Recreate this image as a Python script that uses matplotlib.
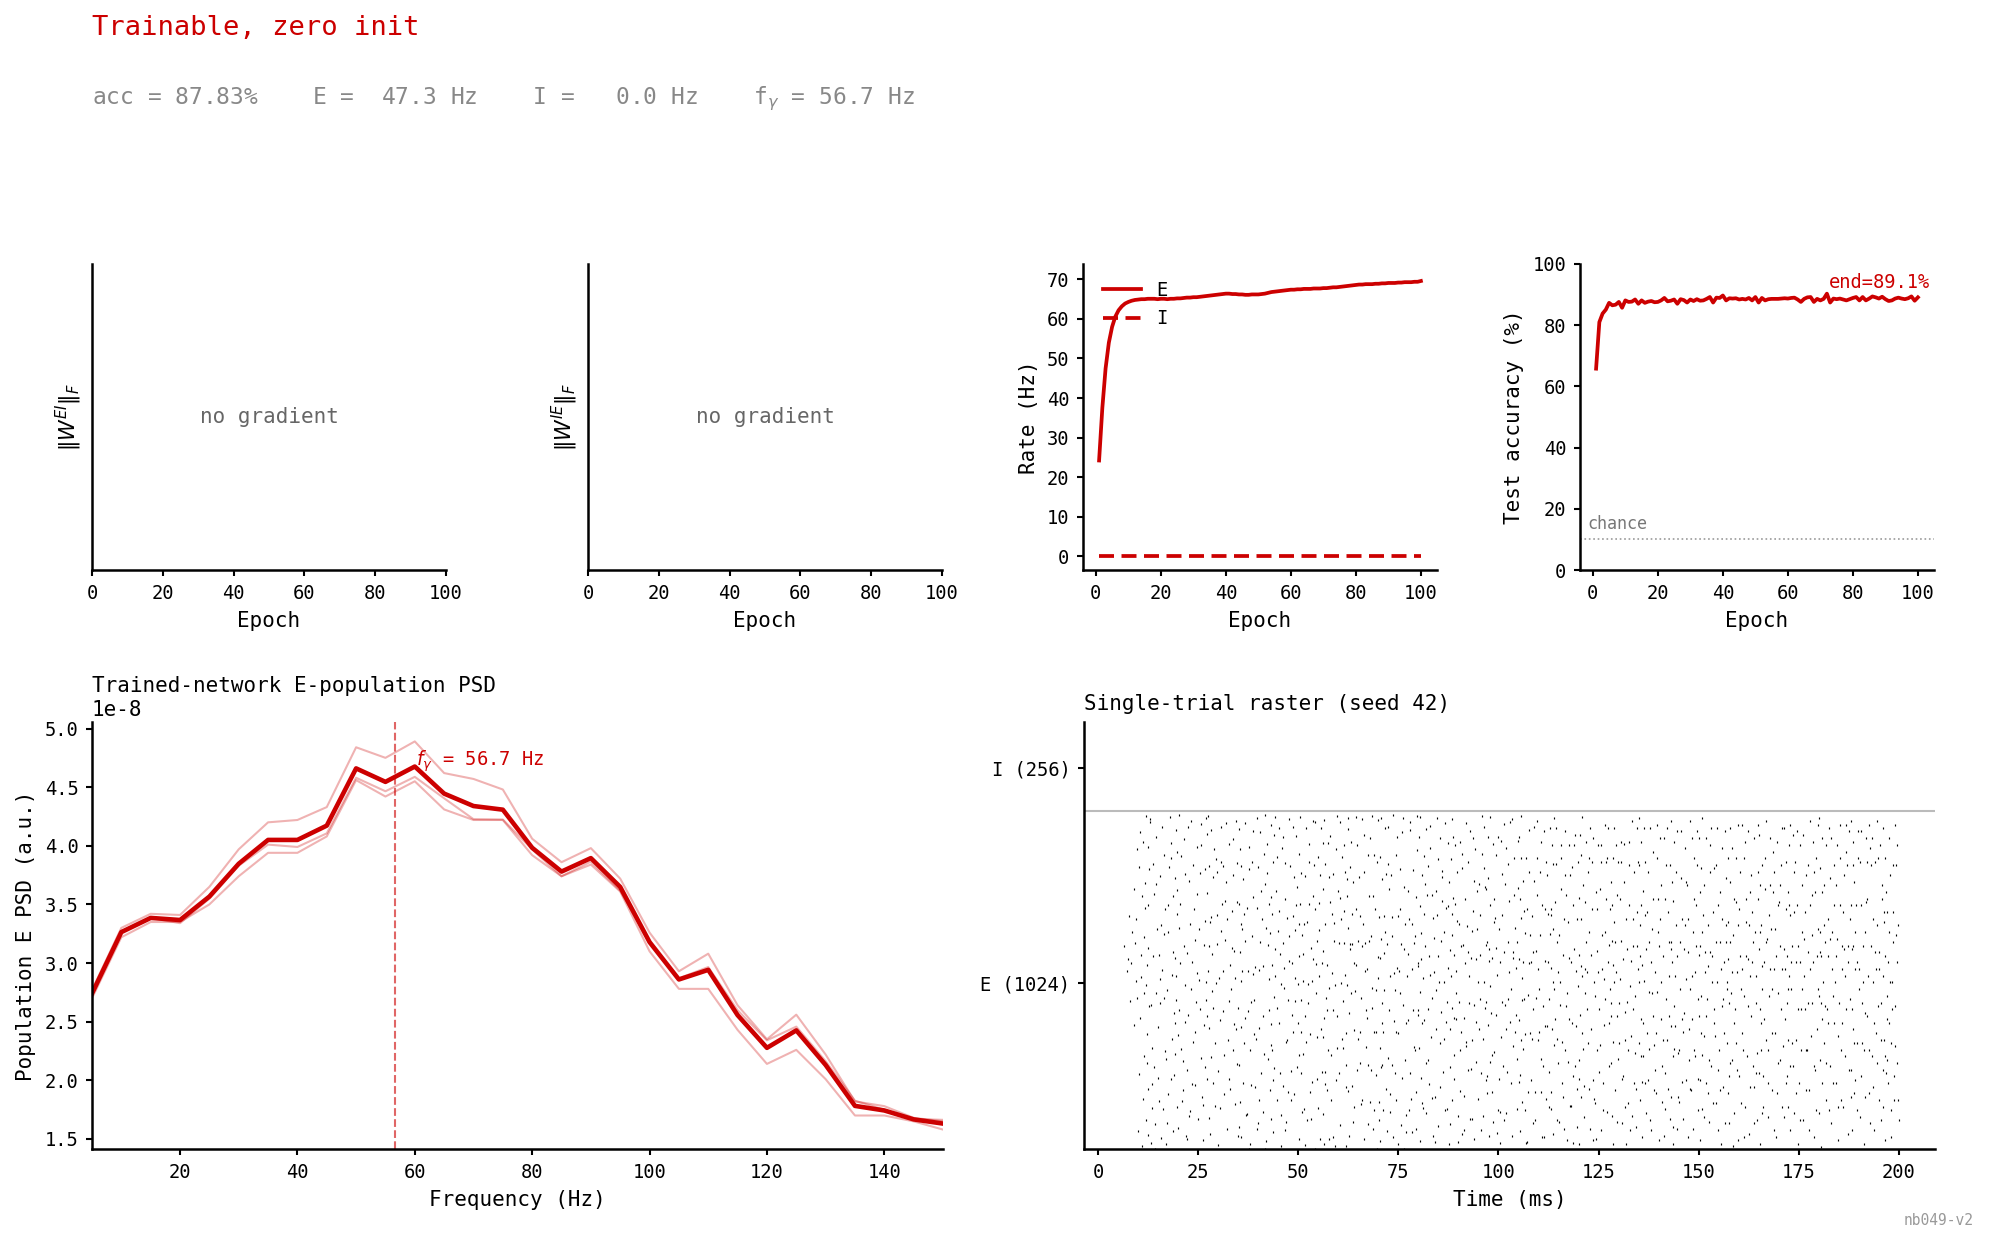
import matplotlib
matplotlib.use('Agg')
import matplotlib.pyplot as plt

plt.rcParams['font.family'] = ['DejaVu Sans Mono', 'DejaVu Sans']
plt.rcParams['axes.unicode_minus'] = False

RED = '#cc0000'

# ---------------- data ----------------
epochs = list(range(1, 101))
rate_E = [24.2, 37.5, 47.5, 54.0, 58.0, 60.6, 62.2, 63.2, 63.9, 64.3,
          64.6, 64.8, 64.9, 65.0, 65.0, 65.1, 65.1, 65.1, 65.0, 65.1,
          65.1, 65.0, 65.1, 65.1, 65.2, 65.2, 65.3, 65.4, 65.4, 65.5,
          65.5, 65.6, 65.7, 65.8, 65.9, 66.0, 66.1, 66.2, 66.3, 66.4,
          66.4, 66.3, 66.3, 66.2, 66.2, 66.1, 66.1, 66.2, 66.2, 66.2,
          66.3, 66.4, 66.6, 66.8, 66.9, 67.0, 67.1, 67.2, 67.3, 67.4,
          67.4, 67.5, 67.5, 67.6, 67.6, 67.6, 67.7, 67.7, 67.7, 67.8,
          67.8, 67.9, 68.0, 68.0, 68.1, 68.2, 68.3, 68.4, 68.5, 68.6,
          68.7, 68.7, 68.8, 68.8, 68.8, 68.9, 68.9, 69.0, 69.0, 69.1,
          69.1, 69.1, 69.2, 69.2, 69.3, 69.3, 69.3, 69.4, 69.4, 69.6]
rate_I = [0.0] * 100
acc = [65.8, 81.0, 83.8, 85.1, 87.3, 86.5, 86.7, 87.6, 85.7, 88.1,
       87.6, 87.7, 88.4, 87.0, 88.1, 87.3, 87.7, 87.9, 87.5, 87.6,
       88.1, 88.9, 87.8, 88.0, 88.4, 87.0, 88.5, 88.2, 87.4, 88.4,
       87.9, 88.5, 88.0, 88.1, 88.6, 89.2, 87.4, 89.0, 88.9, 89.7,
       88.1, 88.8, 88.7, 88.8, 88.4, 88.6, 88.4, 88.9, 88.1, 89.2,
       87.4, 88.9, 88.1, 88.5, 88.6, 88.6, 88.6, 88.7, 88.8, 88.7,
       88.9, 89.0, 88.4, 87.6, 88.6, 89.1, 89.2, 87.6, 88.6, 88.1,
       88.6, 90.3, 87.4, 88.7, 88.5, 88.7, 88.4, 88.1, 88.5, 88.9,
       89.2, 88.1, 89.2, 88.1, 88.7, 89.4, 89.1, 88.7, 89.3, 88.5,
       87.9, 88.1, 88.7, 89.0, 88.7, 88.5, 88.8, 89.4, 88.0, 89.1]
chance_level = 10.0
final_acc = 89.1

freqs = list(range(5, 155, 5))
psd_mean = [2.74, 3.264, 3.385, 3.367, 3.567, 3.847, 4.050, 4.050, 4.172, 4.660,
            4.545, 4.676, 4.445, 4.339, 4.308, 3.983, 3.780, 3.895, 3.649, 3.179,
            2.860, 2.942, 2.556, 2.277, 2.426, 2.131, 1.782, 1.743, 1.667, 1.631]
psd_seed_a = [2.77, 3.30, 3.42, 3.41, 3.65, 3.97, 4.20, 4.22, 4.33, 4.84,
              4.75, 4.89, 4.62, 4.57, 4.48, 4.06, 3.86, 3.98, 3.72, 3.26,
              2.93, 3.08, 2.64, 2.35, 2.56, 2.22, 1.82, 1.78, 1.68, 1.65]
psd_seed_b = [2.70, 3.22, 3.35, 3.35, 3.50, 3.74, 3.94, 3.94, 4.08, 4.56,
              4.42, 4.55, 4.31, 4.22, 4.22, 3.92, 3.74, 3.84, 3.61, 3.10,
              2.78, 2.78, 2.43, 2.14, 2.26, 2.01, 1.70, 1.70, 1.65, 1.58]
psd_seed_c = [2.75, 3.27, 3.385, 3.34, 3.55, 3.83, 4.01, 3.99, 4.106, 4.58,
              4.465, 4.588, 4.405, 4.227, 4.224, 3.969, 3.74, 3.865, 3.617, 3.177,
              2.87, 2.966, 2.598, 2.341, 2.458, 2.163, 1.826, 1.749, 1.671, 1.663]
psd_scale = 1e-8
f_gamma = 56.7

summary_acc = 87.83
summary_E = 47.3
summary_I = 0.0

n_E = 1024
n_I = 256

# E-population spikes read (approximately) from the raster.
# One line per millisecond: "ms: d/n ..." = spike of neuron n at ms + d/10.
E_SPIKES = """
6: 4/622
7: 2/547 8/711 5/583
8: 1/459 6/664 9/793 3/571
9: 0/388 4/518 6/703 8/912 2/633 7/467
10: 1/73 3/241 6/407 7/596 9/772 2/859 5/963 8/529
11: 0/27 3/168 5/296 6/483 8/809 2/934 9/1009 4/651 7/737
12: 0/104 2/274 3/362 5/618 6/746 8/853 9/991 1/506 4/197 7/445 5/917 2/565 6/59
13: 3/36 5/213 7/594 9/779 1/1002 6/318 2/447 8/868 4/139
14: 2/92 5/484 8/672 4/947 9/381 1/263 6/806 3/18
15: 1/229 4/831 7/52 3/597 9/977 5/452 8/686 2/161 6/524
16: 2/137 6/468 8/733 4/893 1/552 7/309 9/33 5/659
17: 0/287 3/94 5/663 8/857 9/1006 2/491 6/183 4/744
18: 1/226 4/537 6/772 9/423 2/929 7/71 5/346 8/605 3/884
19: 0/11 6/142 2/301 9/358 4/463 1/588 7/719 3/826 8/903 5/968 0/239 4/532 7/791 2/394
20: 0/82 2/431 4/748 6/891 3/1013 8/315 5/571 9/162 1/677
21: 2/193 5/624 8/508 4/942 1/281 7/836 9/56 6/397
22: 1/49 3/253 7/817 9/689 5/418 2/603 8/117 4/978
23: 0/131 4/576 6/864 8/337 2/995 5/212 9/734 3/496
24: 1/208 5/457 7/779 3/642 9/7 6/918 2/366 8/543
25: 0/106 3/522 6/924 8/289 4/839 1/673 9/172 5/436 7/987
26: 2/149 5/388 7/697 9/1004 4/627 1/44 6/853 8/261
27: 4/14 1/227 7/379 0/462 5/547 9/693 3/781 6/861 2/956 8/109 5/1011 0/514 6/622 3/413
28: 0/63 2/292 4/598 6/827 8/437 3/969 7/214 1/709 5/488 9/911
29: 1/147 5/512 8/716 4/883 2/334 7/629 9/31 6/844
30: 0/251 3/9 6/668 8/873 5/402 1/527 9/747 4/139 7/976
31: 2/547 4/181 7/758 9/988 1/429 5/297 8/641 3/862
32: 1/77 4/343 6/459 8/928 3/703 0/814 7/226 9/566
33: 0/197 5/618 7/833 2/16 9/389 4/727 6/312 8/942 3/496
34: 1/151 3/527 6/753 8/869 4/994 0/607 7/272 9/58 5/374
35: 6/53 2/268 8/381 0/439 4/604 9/672 3/749 7/861 1/971 5/158 8/517 2/83 6/688 4/912
36: 1/214 4/717 6/988 8/407 3/823 0/548 9/119 5/333 7/637
37: 2/123 5/549 7/917 9/313 1/735 4/429 8/19 6/853
38: 0/34 3/457 5/652 8/768 6/966 2/209 9/362 4/874 7/538
39: 1/202 4/347 7/736 9/858 3/561 6/77 0/463 8/1003
40: 0/94 2/552 5/962 8/244 4/636 1/377 7/788 9/703 3/163
41: 1/413 3/127 6/808 9/677 7/1012 2/562 5/302 8/17 4/897
42: 0/43 4/287 6/523 8/748 2/926 5/627 9/193 3/839 7/433
43: 3/108 7/224 1/329 9/472 5/567 0/662 4/717 8/872 2/983 6/68 3/391 9/954 5/313 1/769
44: 0/259 2/533 5/788 7/163 9/667 3/1007 6/437 1/613 8/889
45: 1/393 4/598 7/27 9/914 2/728 5/243 8/509 3/974 6/118
46: 2/207 5/497 7/763 3/947 9/338 1/633 6/869 8/74 4/558
47: 0/98 3/342 6/578 9/862 2/707 5/462 8/1001 4/187 7/652
48: 1/8 4/418 6/713 8/976 3/249 5/573 9/829 2/163 7/368
49: 0/183 3/527 6/797 9/393 2/671 5/949 8/262 4/744 1/458
50: 3/47 8/243 1/297 6/462 0/509 9/654 4/747 7/841 2/897 5/1008 9/127 1/592 6/367 3/688
51: 1/302 4/689 6/413 9/973 2/517 5/137 8/831 3/598 7/29
52: 2/103 4/509 7/873 9/187 3/693 0/338 6/927 5/453 8/749
53: 0/362 3/617 6/994 8/773 1/108 4/517 9/864 5/218 7/583
54: 1/19 4/482 7/227 9/889 5/569 2/732 8/353 3/991 6/639
55: 0/139 2/669 5/833 8/376 3/532 6/973 9/247 1/752 4/49
56: 5/34 1/123 8/248 3/353 9/467 0/572 6/689 2/794 7/867 4/999 1/607 8/212 5/407 3/929
57: 1/432 4/929 6/48 9/753 2/567 5/313 8/829 3/193 7/499
58: 2/298 5/542 7/838 3/163 9/691 0/949 6/433 4/717 8/53
59: 0/638 3/27 6/413 8/1009 2/508 5/223 9/788 4/913 7/318
60: 1/243 4/767 7/513 9/889 5/89 2/632 8/347 3/993 6/703
61: 2/319 5/632 8/28 6/843 1/458 9/203 4/727 7/537 3/923
62: 4/192 0/268 7/423 2/507 9/613 5/677 1/773 8/859 3/972 6/58 0/363 4/1003 8/629 2/823
63: 1/483 4/207 7/813 5/628 9/373 2/933 6/98 8/573 3/717
64: 0/143 3/567 6/923 9/347 4/733 1/488 7/253 5/1007 8/637
65: 2/9 4/713 7/467 9/1002 5/273 1/827 8/623 3/368 6/153
66: 0/163 3/843 6/548 8/323 2/689 5/952 9/433 4/49 7/633
67: 1/408 4/93 6/639 9/943 3/268 7/773 2/553 8/158 5/893
68: 2/253 5/498 7/773 4/1011 9/367 1/653 6/78 8/893 3/438
69: 0/133 3/367 6/873 8/589 2/733 5/238 9/997 4/493 7/17
70: 5/43 1/158 7/263 3/318 9/453 0/528 6/643 2/708 8/823 4/889 7/1003 1/103 5/588 9/393
71: 1/368 3/603 5/713 7/973 9/198 4/493 8/838 2/133 6/663 0/268
72: 2/73 5/288 7/793 9/533 3/868 1/628 6/433 8/183 4/978
73: 0/128 4/653 7/1013 9/398 2/833 5/268 8/543 3/708 6/53
74: 1/243 4/893 6/558 8/33 3/368 9/713 5/163 7/948 2/493
75: 0/363 3/733 6/88 9/963 2/548 5/853 8/228 4/483 7/628
76: 2/448 5/798 7/283 4/613 9/118 1/1003 6/688 8/393 3/18
77: 0/68 3/403 6/703 8/993 1/533 5/788 9/243 4/598 7/133
78: 1/168 4/553 7/848 9/323 3/688 6/433 0/968 8/633 5/68
79: 2/653 5/78 8/433 6/908 1/313 4/768 9/563 3/188 7/1010
80: 6/229 2/318 9/393 4/487 0/572 7/661 3/742 8/834 1/947 5/42 9/154 3/1007 6/583 0/418
81: 2/526 5/717 8/273 4/891 1/139 6/624 9/971 3/402 7/806
82: 0/124 3/436 6/593 9/979 2/774 5/284 8/537 4/862 7/213
83: 1/352 4/776 7/57 9/546 3/169 6/707 0/916 5/467 8/648
84: 2/174 5/493 8/882 6/716 1/39 4/375 9/594 3/787 7/1004
85: 0/86 3/334 6/637 9/827 2/514 5/204 8/757 4/943 7/425
86: 1/246 4/516 7/989 9/396 3/663 6/133 0/847 5/345 8/736
87: 2/137 5/743 7/32 8/612 1/457 4/931 9/263 3/556 6/814
88: 3/165 8/297 0/374 5/438 1/534 9/596 4/718 7/766 2/883 6/947 0/93 5/1002 8/407 3/656
89: 0/227 3/406 5/549 7/842 9/117 6/697 2/925 4/484 8/38 1/749
90: 2/456 5/933 8/64 4/314 1/687 7/623 9/856 3/192 6/367
91: 1/626 4/176 7/763 9/988 3/407 6/573 0/896 5/76 8/324
92: 0/337 3/872 6/533 8/107 2/682 5/253 9/964 4/604 7/454
93: 2/256 5/667 8/446 6/943 1/586 4/107 9/816 3/344 7/728
94: 0/47 3/584 6/787 9/167 4/396 1/912 7/673 5/277 8/516
95: 1/374 4/714 7/244 9/896 3/596 6/74 2/807 5/466 8/1011
96: 2/117 5/516 8/626 4/976 1/347 7/797 9/224 3/856 6/437
97: 7/56 2/184 9/276 4/387 0/456 6/577 1/636 8/744 3/826 5/947 9/1006 2/236 6/613 0/793
98: 1/424 4/587 7/97 9/763 3/297 6/927 0/503 5/187 8/694
99: 0/306 3/894 6/537 8/134 2/706 5/417 9/947 4/616 7/66
100: 2/673 5/36 8/456 6/936 1/226 4/574 9/836 3/127 7/353
101: 1/266 4/604 7/806 9/374 3/986 6/446 0/716 5/104 8/914
102: 0/126 3/466 6/756 9/993 2/246 5/636 8/396 4/866 7/546
103: 2/216 5/606 8/886 4/56 1/496 7/326 9/776 3/1001 6/586
104: 0/366 3/556 6/286 9/796 2/676 5/136 8/936 4/416 7/636
105: 4/71 9/157 1/219 6/344 2/403 8/527 0/584 5/706 3/763 7/884 1/947 6/1010 9/462 4/238
106: 1/317 3/464 5/661 7/133 9/884 4/726 0/576 6/361 8/37 2/817
107: 2/39 5/573 8/364 6/967 1/733 4/187 9/654 3/477 7/844
108: 0/224 3/713 6/434 9/817 2/576 5/94 8/977 4/347 7/604
109: 1/104 4/607 7/994 9/344 3/467 6/774 0/187 5/884 8/554
110: 2/494 5/187 8/744 6/934 1/367 4/654 9/54 3/844 7/287
111: 0/264 3/54 6/577 9/874 2/444 5/734 8/167 4/964 7/384
112: 1/384 4/717 7/144 9/974 3/574 6/247 0/834 5/464 8/657
113: 6/64 1/187 8/327 3/374 9/494 0/557 5/674 2/734 7/867 4/924 9/1003 2/137 6/514 0/714
114: 2/404 5/634 8/274 4/867 1/754 7/104 9/544 3/974 6/347
115: 1/97 4/514 7/794 9/337 2/654 5/924 8/214 3/447 6/884
116: 0/174 3/704 6/964 8/444 2/597 5/314 9/774 4/77 7/834
117: 2/44 5/587 8/834 4/277 1/484 7/924 9/147 3/694 6/404
118: 0/147 3/394 6/744 9/924 2/574 5/234 8/614 4/857 7/37
119: 1/264 4/547 7/84 9/874 3/384 6/704 0/954 5/197 8/504
120: 5/174 0/227 8/364 3/417 9/534 1/597 6/704 2/767 7/894 4/954 0/34 8/1006 5/564 2/284
121: 2/317 5/484 8/634 4/114 1/804 7/554 9/934 3/207 6/754
122: 0/544 3/844 6/197 9/974 2/434 5/664 8/77 4/334 7/884
123: 1/374 4/734 7/44 9/514 3/874 6/224 0/597 5/944 8/167
124: 2/154 5/607 8/924 6/314 1/474 4/784 9/544 3/47 7/734
125: 0/434 3/794 6/74 9/654 2/247 5/924 8/554 4/327 7/874
126: 1/214 4/524 7/984 9/874 3/387 6/664 0/134 5/464 8/764
127: 2/127 5/394 8/734 4/574 1/884 7/264 9/494 3/974 6/627
128: 7/34 3/117 0/274 6/337 1/454 8/514 4/637 9/694 2/814 5/884 8/974 1/414 6/567 3/744
129: 1/194 4/544 7/774 9/287 3/924 6/414 0/634 5/97 8/874
130: 2/454 5/934 8/94 6/637 1/334 4/764 9/227 3/524 7/874
131: 0/234 3/814 6/427 9/34 2/584 5/144 8/704 4/927 7/344
132: 1/614 4/154 7/934 9/504 3/314 6/744 0/457 5/864 8/74
133: 2/354 5/704 8/214 4/994 1/577 7/434 9/844 3/117 6/624
134: 0/474 3/84 6/624 9/874 2/304 5/974 8/554 4/197 7/724
135: 3/164 8/217 1/334 6/404 0/514 9/567 4/684 7/744 2/864 5/934 9/54 1/1004 6/294 4/594
136: 1/294 3/517 5/714 8/124 6/874 0/394 9/614 4/974 7/214 2/787
137: 2/364 5/634 8/974 4/224 1/724 7/487 9/104 3/844 6/317
138: 0/74 3/484 6/764 9/327 2/574 5/904 8/194 4/674 7/414
139: 1/544 4/184 7/884 9/664 3/364 6/984 0/254 5/487 8/764
140: 2/44 5/404 8/264 6/804 1/624 4/944 9/157 3/704 7/514
141: 0/594 3/944 6/137 9/464 2/344 5/764 8/864 4/57 7/244
142: 1/344 4/724 7/534 9/864 3/197 6/414 0/974 5/634 8/107
143: 5/84 0/174 7/294 2/384 9/444 4/574 1/634 6/757 3/814 8/934 2/994 5/34 9/317 0/614
144: 2/384 5/594 8/174 4/844 1/534 7/964 9/304 3/684 6/77
145: 0/314 3/494 6/964 9/704 2/157 5/824 8/404 4/634 7/217
146: 1/107 4/424 7/814 9/224 3/614 6/914 0/367 5/684 8/524
147: 2/604 5/374 8/994 4/54 1/804 7/494 9/197 3/704 6/284
148: 0/194 3/534 6/664 9/884 2/404 5/77 8/764 4/944 7/314
149: 1/294 4/744 7/464 9/134 3/624 6/864 0/544 5/964 8/227
150: 4/44 9/137 2/224 7/297 0/414 5/474 1/597 8/664 3/784 6/854 0/944 9/1004 5/364 2/624
151: 2/354 5/544 8/214 4/804 1/714 7/414 9/944 3/114 6/604
152: 0/464 3/684 6/97 9/924 2/564 5/284 8/844 4/184 7/604
153: 1/264 4/594 7/394 9/854 3/514 6/724 0/974 5/154 8/434
154: 2/154 5/514 8/744 6/974 1/354 4/634 9/254 3/864 7/74
155: 0/314 3/634 6/34 9/444 2/784 5/554 8/914 4/194 7/704
156: 1/204 4/574 7/824 9/684 3/364 6/964 0/464 5/94 8/634
157: 6/94 2/184 8/274 0/334 5/454 1/514 7/634 3/694 9/814 4/884 8/974 0/494 6/234 3/584
158: 2/284 5/654 8/124 4/914 1/484 7/764 9/394 3/544 6/27
159: 0/434 3/754 6/544 9/44 2/884 5/254 8/684 4/334 7/984
160: 1/234 4/844 7/364 9/984 3/594 6/494 0/734 5/154 8/554
161: 2/474 5/144 8/694 4/884 1/314 7/594 9/764 3/54 6/934
162: 0/294 3/584 6/64 9/784 2/444 5/684 8/204 4/964 7/534
163: 1/414 4/724 7/204 9/944 3/574 6/264 0/834 5/634 8/94
164: 2/534 5/304 8/844 6/104 1/664 4/454 9/984 3/244 7/764
165: 4/34 9/124 1/244 6/314 3/434 8/494 0/614 5/684 2/804 7/864 1/954 5/394 9/564 3/664
166: 1/234 4/574 7/994 9/634 3/404 6/794 0/144 5/884 8/344
167: 2/114 5/474 8/804 4/314 1/644 7/944 9/554 3/214 6/714
168: 0/674 3/194 6/904 9/554 2/364 5/784 8/74 4/494 7/844
169: 1/364 4/54 7/744 9/274 3/594 6/934 0/674 5/184 8/484
170: 2/624 5/864 8/144 6/434 1/754 4/284 9/974 3/804 7/554
171: 0/324 3/974 6/554 9/734 2/114 5/404 8/874 4/614 7/214
172: 7/74 2/144 9/264 4/344 0/454 6/534 1/594 8/714 3/784 5/924 9/984 1/234 6/744 3/494
173: 1/494 4/624 7/124 9/844 3/334 6/954 0/574 5/264 8/724
174: 2/344 5/744 8/34 4/574 1/874 7/434 9/624 3/184 6/964
175: 0/214 3/924 6/434 9/664 2/574 5/314 8/804 4/104 7/494
176: 1/104 4/534 7/834 9/314 3/644 6/434 0/954 5/724 8/194
177: 2/604 5/194 8/994 4/454 1/314 7/744 9/554 3/864 6/74
178: 0/354 3/774 6/574 9/54 2/654 5/934 8/264 4/454 7/844
179: 1/254 4/884 7/494 9/674 3/134 6/594 0/784 5/374 8/984
180: 5/24 0/124 7/214 3/284 8/404 1/474 6/594 2/664 9/784 4/854 7/944 0/1004 5/454 3/604
181: 2/334 5/634 8/164 4/804 1/514 7/924 9/274 3/684 6/444
182: 0/434 3/704 6/974 9/264 2/594 5/134 8/824 4/394 7/644
183: 1/94 4/554 7/864 9/394 3/664 6/214 0/944 5/474 8/744
184: 2/214 5/644 8/44 6/924 1/514 4/804 9/354 3/594 7/144
185: 0/454 3/744 6/314 9/554 2/884 5/164 8/624 4/984 7/394
186: 1/144 4/834 7/434 9/984 3/614 6/294 0/724 5/534 8/904
187: 2/624 5/254 8/704 4/64 1/864 7/464 9/174 3/574 6/964
188: 3/74 8/184 0/254 6/374 2/434 9/554 4/624 1/744 7/814 5/934 0/994 8/334 3/614 6/864
189: 1/224 4/574 7/884 9/494 3/744 6/134 0/664 5/334 8/964
190: 2/114 5/744 8/334 6/964 1/554 4/234 9/624 3/874 7/454
191: 0/514 3/34 6/664 9/874 2/314 5/424 8/944 4/174 7/754
192: 1/414 4/184 7/914 9/624 3/534 6/314 0/764 5/984 8/94
193: 2/294 5/704 8/74 4/514 1/864 7/394 9/604 3/944 6/204
194: 0/874 3/364 6/994 9/164 2/554 5/684 8/444 4/274 7/884
195: 1/604 4/454 7/764 9/254 3/924 6/104 0/554 5/344 8/804
196: 6/44 1/144 8/244 3/344 9/404 0/534 5/594 2/724 7/784 4/884 1/974 9/474 5/294 3/694
197: 1/284 3/574 5/664 7/834 9/134 4/944 6/394 0/724 8/514 2/214
198: 0/54 3/514 5/724 7/234 9/984 4/634 1/334 6/864 8/164 2/434
199: 1/324 3/864 5/574 7/164 8/684 0/444 4/924 6/274 2/654 9/104
"""

spike_t, spike_n = [], []
for line in E_SPIKES.strip().splitlines():
    ms, entries = line.split(':')
    for tok in entries.split():
        d, n = tok.split('/')
        spike_t.append(int(ms) + int(d) / 10)
        spike_n.append(int(n))

# ---------------- figure ----------------
fig = plt.figure(figsize=(2000 / 150, 1247 / 150), dpi=150)


def style(ax):
    for s in ('top', 'right'):
        ax.spines[s].set_visible(False)
    for s in ('left', 'bottom'):
        ax.spines[s].set_linewidth(1.2)
    ax.tick_params(labelsize=9, width=1.0, length=3)


top_b, top_h = 0.5429, 0.2454
lefts = [0.046, 0.294, 0.5415, 0.790]
w = 0.177

# empty panels
for i, lab in enumerate([r'$\|W^{EI}\|_F$', r'$\|W^{IE}\|_F$']):
    ax = fig.add_axes([lefts[i], top_b, w, top_h])
    style(ax)
    ax.set_xlim(0, 100)
    ax.set_xticks([0, 20, 40, 60, 80, 100])
    ax.set_yticks([])
    ax.set_xlabel('Epoch', fontsize=10)
    ax.set_ylabel(lab, fontsize=10)
    ax.text(0.5, 0.5, 'no gradient', transform=ax.transAxes, ha='center',
            va='center', color='#666666', fontsize=10)

# rates
ax = fig.add_axes([lefts[2], top_b, w, top_h])
style(ax)
ax.plot(epochs, rate_E, color=RED, lw=1.8, label='E')
ax.plot(epochs, rate_I, color=RED, lw=1.8, ls=(0, (4, 2)), label='I')
ax.set_ylim(-3.5, 73.9)
ax.set_xticks([0, 20, 40, 60, 80, 100])
ax.set_yticks([0, 10, 20, 30, 40, 50, 60, 70])
ax.set_xlabel('Epoch', fontsize=10)
ax.set_ylabel('Rate (Hz)', fontsize=10)
ax.legend(loc='upper left', frameon=False, fontsize=9,
          bbox_to_anchor=(0.01, 1.0))

# accuracy
ax = fig.add_axes([lefts[3], top_b, w, top_h])
style(ax)
ax.plot(epochs, acc, color=RED, lw=1.8)
ax.axhline(chance_level, color='#999999', ls=':', lw=0.8)
ax.text(0.02, chance_level + 2, 'chance', transform=ax.get_yaxis_transform(),
        color='#777777', fontsize=8, va='bottom')
ax.text(0.99, 0.97, f'end={final_acc:.1f}%', transform=ax.transAxes,
        ha='right', va='top', color=RED, fontsize=9)
ax.set_ylim(0, 100)
ax.set_xticks([0, 20, 40, 60, 80, 100])
ax.set_xlabel('Epoch', fontsize=10)
ax.set_ylabel('Test accuracy (%)', fontsize=10)

# PSD
bot_b, bot_h = 0.0786, 0.3424
ax = fig.add_axes([0.046, bot_b, 0.4255, bot_h])
style(ax)
for seed in (psd_seed_a, psd_seed_b, psd_seed_c):
    ax.plot(freqs, [v * psd_scale for v in seed], color=RED, alpha=0.3, lw=1)
ax.plot(freqs, [v * psd_scale for v in psd_mean], color=RED, lw=2.2)
ax.axvline(f_gamma, color=RED, ls='--', lw=1, alpha=0.6)
ax.text(f_gamma + 3.5, 4.72e-8, r'$f_\gamma$ = %.1f Hz' % f_gamma, color=RED,
        fontsize=9, va='center')
ax.set_xlim(5, 150)
ax.set_xlabel('Frequency (Hz)', fontsize=10)
ax.set_ylabel('Population E PSD (a.u.)', fontsize=10)
ax.set_title('Trained-network E-population PSD', loc='left', fontsize=10,
             y=1.0, pad=14.5)

# raster
ax = fig.add_axes([0.542, bot_b, 0.4255, bot_h])
style(ax)
ax.plot(spike_t, spike_n, '|', color='black', ms=1.4, mew=0.55)
ax.axhline(n_E, color='#bbbbbb', lw=1)
ax.set_xlim(-3.5, 209)
ax.set_ylim(18, 1290)
ax.set_xticks([0, 25, 50, 75, 100, 125, 150, 175, 200])
ax.set_yticks([n_E / 2, n_E + n_I / 2])
ax.set_yticklabels([f'E ({n_E})', f'I ({n_I})'])
ax.set_xlabel('Time (ms)', fontsize=10)
ax.set_title('Single-trial raster (seed 42)', loc='left', fontsize=10)

# header texts
fig.text(0.046, 0.9876, 'Trainable, zero init', color=RED, fontsize=13,
         va='top')
fig.text(0.046, 0.932,
         f'acc = {summary_acc:.2f}%    E = {summary_E:5.1f} Hz    '
         f'I = {summary_I:5.1f} Hz    f' + r'$_\gamma$' + f' = {f_gamma:.1f} Hz',
         color='#888888', fontsize=11, va='top')
fig.text(0.987, 0.015, 'nb049-v2', color='#999999', fontsize=7, ha='right',
         va='bottom')

fig.savefig('out.png', dpi=150)
